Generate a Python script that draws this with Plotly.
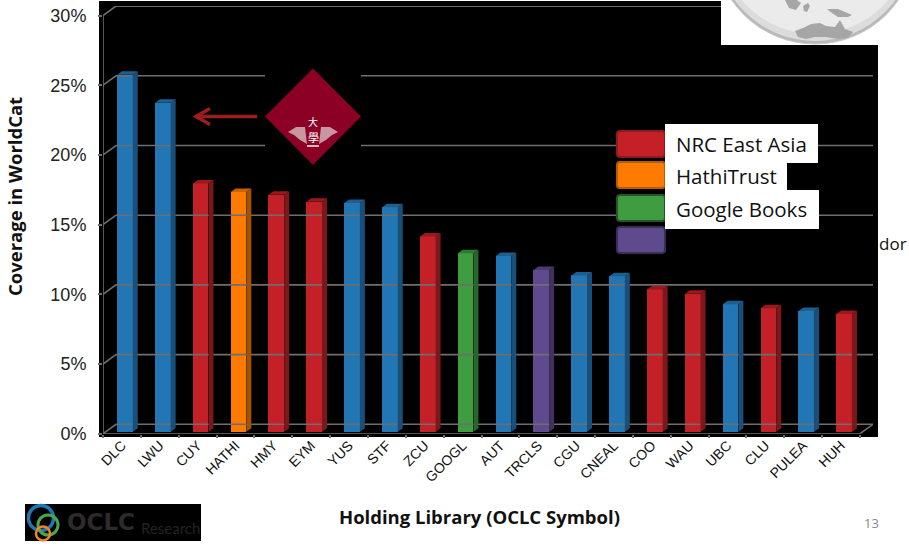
import plotly.graph_objects as go

W, H = 909, 553

libraries = ["DLC", "LWU", "CUY", "HATHI", "HMY", "EYM", "YUS", "STF", "ZCU", "GOOGL",
             "AUT", "TRCLS", "CGU", "CNEAL", "COO", "WAU", "UBC", "CLU", "PULEA", "HUH"]
coverage = [25.6, 23.6, 17.8, 17.2, 17.0, 16.5, 16.4, 16.1, 14.0, 12.8,
            12.6, 11.6, 11.2, 11.15, 10.2, 9.9, 9.15, 8.85, 8.65, 8.45]
groups = ["Other", "Other", "NRC East Asia", "HathiTrust", "NRC East Asia", "NRC East Asia",
          "Other", "Other", "NRC East Asia", "Google Books", "Other", "Vendor", "Other", "Other",
          "NRC East Asia", "NRC East Asia", "Other", "NRC East Asia", "Other", "NRC East Asia"]
y_ticks = [0, 5, 10, 15, 20, 25, 30]
y_tick_labels = ["0%", "5%", "10%", "15%", "20%", "25%", "30%"]
legend_names = ["NRC East Asia", "HathiTrust", "Google Books"]

palette = {
    "Other": ("#2176b3", "#1a4f7a", "#1d5f8f"),
    "NRC East Asia": ("#c32127", "#7c181b", "#99191e"),
    "HathiTrust": ("#ff7a00", "#a65300", "#c96200"),
    "Google Books": ("#3f9c40", "#28662a", "#2f7a31"),
    "Vendor": ("#604a8e", "#40315f", "#4d3b72"),
}

PX_PER_CAT = 37.85
PX_PER_UNIT = 13.94
bar_w = 15.7 / PX_PER_CAT
shift = 3.0 / PX_PER_CAT
lift = 2.0 / PX_PER_UNIT
bd_x, bd_y = 5.0 / PX_PER_CAT, 3.5 / PX_PER_UNIT
wd_x, wd_y = 13.0 / PX_PER_CAT, 9.4 / PX_PER_UNIT
GRID = "#6e6e6e"


def X(px):
    return px / W


def Y(py):
    return 1 - py / H


def rect(x0, y0, x1, y1, color, layer="above"):
    return dict(type="rect", xref="paper", yref="paper", x0=X(x0), x1=X(x1), y0=Y(y0), y1=Y(y1),
                fillcolor=color, line_width=0, layer=layer)


def path(points, fill=None, line=None, width=0, close=True, layer="above"):
    d = "M " + " L ".join(f"{X(a):.5f},{Y(b):.5f}" for a, b in points) + (" Z" if close else "")
    return dict(type="path", xref="paper", yref="paper", path=d, fillcolor=fill if fill else "rgba(0,0,0,0)",
                line=dict(color=line if line else "rgba(0,0,0,0)", width=width), layer=layer)


def circle(cx, cy, r, fill=None, line=None, width=0, layer="above"):
    return dict(type="circle", xref="paper", yref="paper", x0=X(cx - r), x1=X(cx + r), y0=Y(cy + r), y1=Y(cy - r),
                fillcolor=fill if fill else "rgba(0,0,0,0)",
                line=dict(color=line if line else "rgba(0,0,0,0)", width=width), layer=layer)


def note(x, y, text, size, color="#111", family="Open Sans", anchor="left", angle=0, bold=False):
    return dict(xref="paper", yref="paper", x=X(x), y=Y(y), text=f"<b>{text}</b>" if bold else text,
                showarrow=False, xanchor=anchor, yanchor="middle", textangle=angle, borderpad=0,
                font=dict(size=size, color=color, family=family))


fig = go.Figure()

# chart walls: left edge, front floor edge, and the gridlines running to the back plane
gx, gy = [-0.5, -0.5, None, -0.5, 19.5, None, 19.5, 19.5 + wd_x, None], [0, 30, None, 0, 0, None, 0, wd_y, None]
for v in y_ticks:
    gx += [-0.5, -0.5 + wd_x, 19.5 + wd_x, None]
    gy += [v, v + wd_y, v + wd_y, None]
fig.add_trace(go.Scatter(x=gx, y=gy, mode="lines", line=dict(color=GRID, width=1.6), cliponaxis=False,
                         hoverinfo="skip", showlegend=False))

for g, (front, side, top) in palette.items():
    idx = [i for i, n in enumerate(groups) if n == g]
    sx, sy, tx, ty = [], [], [], []
    for i in idx:
        xl = i + shift - bar_w / 2
        xr = i + shift + bar_w / 2
        t = coverage[i] + lift
        sx += [xr, xr + bd_x, xr + bd_x, xr, xr, None]
        sy += [lift, lift + bd_y, t + bd_y, t, lift, None]
        tx += [xl, xl + bd_x, xr + bd_x, xr, xl, None]
        ty += [t, t + bd_y, t + bd_y, t, t, None]
    fig.add_trace(go.Scatter(x=sx, y=sy, mode="lines", fill="toself", fillcolor=side, line=dict(width=0, color=side),
                             hoverinfo="skip", showlegend=False, cliponaxis=False))
    fig.add_trace(go.Scatter(x=tx, y=ty, mode="lines", fill="toself", fillcolor=top, line=dict(width=0, color=top),
                             hoverinfo="skip", showlegend=False, cliponaxis=False))
    fig.add_trace(go.Bar(x=idx, y=[coverage[i] for i in idx], base=lift, name=g, width=bar_w,
                         offset=shift - bar_w / 2, marker=dict(color=front, line_width=0), showlegend=False))

shapes = [rect(99, 1, 878, 437, "#000000", layer="below")]

# white cut-out with the globe
shapes.append(rect(721, 0, 909, 45, "#ffffff"))
shapes.append(rect(878, 45, 909, 553, "#ffffff"))
shapes.append(circle(815, -57, 101, fill="#b9b9b9", line="#c8c8c8", width=1))
shapes.append(circle(815, -58.5, 99.5, fill="#dcdcdc"))
shapes.append(circle(815, -62, 96, fill="#ebebeb"))
shapes.append(path([(795, 31), (803, 28), (811, 24), (820, 23), (826, 26), (835, 27), (840, 20), (845, 29), (853, 32),
                    (848, 38), (838, 39), (826, 37), (815, 37), (806, 39), (798, 37)], fill="#a6a6a6"))
shapes.append(path([(785, 0), (797, 0), (801, 3), (796, 10), (789, 8)], fill="#a6a6a6"))
shapes.append(path([(827, 9), (838, 9), (852, 15), (848, 17), (838, 17), (832, 13)], fill="#a6a6a6"))
shapes.append(path([(803, 6), (808, 3), (810, 6), (807, 12), (804, 11)], fill="#a6a6a6"))

# black patch with the diamond crest
shapes.append(rect(265, 68, 361, 166, "#000000"))
shapes.append(path([(313, 68.5), (361, 116.5), (313, 165), (265, 116.5)], fill="#8b0024"))
shapes.append(path([(288, 132), (296, 127), (305, 127), (307, 144), (300, 140), (294, 135)], fill="#c995a2"))
shapes.append(path([(338, 132), (330, 127), (321, 127), (319, 144), (326, 140), (332, 135)], fill="#c995a2"))
shapes.append(path([(307, 146), (319, 146)], line="#d9b5bd", width=2, close=False))

# arrow
shapes.append(path([(257, 116.5), (197, 116.5)], line="#9c1c1f", width=3.5, close=False))
shapes.append(path([(210, 108.5), (196, 116.5), (210, 124.5)], line="#9c1c1f", width=3.5, close=False))

# legend
swatches = [(131, 157, "#c32127", "#8f1a1e"), (162, 188, "#ff7a00", "#b85c00"),
            (195, 221, "#3f9c40", "#25552a"), (227, 253, "#604a8e", "#3a2d5a")]
for y0, y1, c, b in swatches:
    shapes.append(dict(type="path", xref="paper", yref="paper", layer="above", fillcolor=c,
                       line=dict(color=b, width=2),
                       path=(f"M {X(620)},{Y(y0)} L {X(662)},{Y(y0)} Q {X(665)},{Y(y0)} {X(665)},{Y(y0 + 3)} "
                             f"L {X(665)},{Y(y1 - 3)} Q {X(665)},{Y(y1)} {X(662)},{Y(y1)} L {X(620)},{Y(y1)} "
                             f"Q {X(617)},{Y(y1)} {X(617)},{Y(y1 - 3)} L {X(617)},{Y(y0 + 3)} "
                             f"Q {X(617)},{Y(y0)} {X(620)},{Y(y0)} Z")))
shapes.append(rect(665, 124, 818, 163, "#ffffff"))
shapes.append(rect(665, 163, 787, 190, "#ffffff"))
shapes.append(rect(665, 190, 819, 229, "#ffffff"))

# OCLC logo
shapes.append(rect(25, 504, 201, 541, "#000000"))
shapes.append(circle(41, 518, 12.5, line="#1f78b4", width=3.5))
shapes.append(circle(48, 525, 10, line="#4aa84a", width=3))
shapes.append(circle(43, 533.5, 7, line="#f58220", width=2.5))

annotations = [
    note(15, 197, "Coverage in WorldCat", 18.5, angle=-90, anchor="center", bold=True),
    note(480, 516, "Holding Library (OCLC Symbol)", 18.5, anchor="center", bold=True),
    note(871, 523, "13", 13, color="#8a8a8a", anchor="center"),
    note(878, 243, "dor", 17),
    note(66, 522, "OCLC", 23, color="#2d2b2b", family="DejaVu Sans", bold=True),
    note(140, 528, "Research", 15, color="#232323", family="Lato"),
    note(313, 121, "大", 10, color="#ffffff", family="Noto Sans CJK TC", anchor="center"),
    note(313, 137, "學", 11, color="#ffffff", family="Noto Sans CJK TC", anchor="center"),
]
for (name, yc) in zip(legend_names, [144, 176, 209]):
    annotations.append(note(675, yc, name, 20.5))

fig.update_layout(
    width=W, height=H, autosize=False, margin=dict(l=0, r=0, t=0, b=0, pad=0, autoexpand=False),
    paper_bgcolor="#ffffff",
    plot_bgcolor="rgba(0,0,0,0)", bargap=0, showlegend=False, shapes=shapes, annotations=annotations,
    xaxis=dict(domain=[X(103), X(873)], range=[-0.5, 19.5 + wd_x], tickmode="array", tickvals=list(range(20)),
               ticktext=libraries, tickangle=-45, ticks="", showgrid=False, zeroline=False, showline=False,
               tickfont=dict(family="Liberation Sans", size=14, color="#111"),
               minor=dict(tickmode="array", tickvals=[i - 0.5 for i in range(21)], ticks="outside", ticklen=3,
                          tickcolor=GRID, tickwidth=1.5)),
    yaxis=dict(domain=[Y(433.7), Y(15.5 - 9.4)], range=[0, 30 + wd_y], tickmode="array", tickvals=y_ticks,
               ticktext=y_tick_labels, ticks="outside", ticklen=4, tickcolor=GRID, tickwidth=1.5,
               showgrid=False, zeroline=False, showline=False,
               ticklabelstandoff=8, tickfont=dict(family="Liberation Sans", size=18, color="#222")),
)

fig.write_html("out.html", config=dict(displayModeBar=False),
               post_script="document.body.style.margin='0';document.body.style.overflow='hidden';")
